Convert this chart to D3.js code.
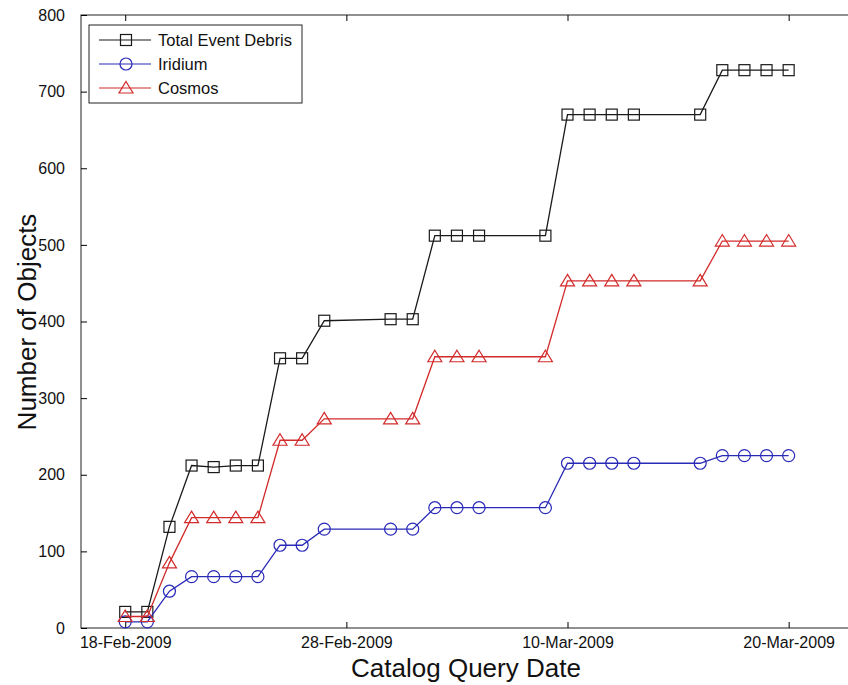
<!DOCTYPE html>
<html lang="en">
<head>
<meta charset="utf-8">
<title>Catalog Query Date</title>
<script src="https://cdn.jsdelivr.net/npm/d3@7"></script>
<style>
    body {
        margin: 0;
        background: #fff;
    }
    svg text {
        font-family: "Liberation Sans", Arial, sans-serif;
        fill: #111;
    }
    .line {
        fill: none;
        stroke-width: 1.3;
    }
</style>
</head>
<body>
<div id="chart"></div>
<script type="text/javascript">

// query dates and object counts
const DATES = ["2009-02-18","2009-02-19","2009-02-20","2009-02-21","2009-02-22",
               "2009-02-23","2009-02-24","2009-02-25","2009-02-26","2009-02-27",
               "2009-03-02","2009-03-03","2009-03-04","2009-03-05","2009-03-06",
               "2009-03-09","2009-03-10","2009-03-11","2009-03-12","2009-03-13",
               "2009-03-16","2009-03-17","2009-03-18","2009-03-19","2009-03-20"];
const TOTAL   = [21,21,132,212,210,212,212,352,352,401,403,403,512,512,512,
                 512,670,670,670,670,670,728,728,728,728];
const IRIDIUM = [8,8,48,67,67,67,67,108,108,129,129,129,157,157,157,
                 157,215,215,215,215,215,225,225,225,225];
const COSMOS  = [15,15,85,144,144,144,144,245,245,273,273,273,354,354,354,
                 354,453,453,453,453,453,505,505,505,505];
const Y_TICKS = [0,100,200,300,400,500,600,700,800];
const X_TICKS = ["2009-02-18","2009-02-28","2009-03-10","2009-03-20"];

const WIDTH = 848,
      HEIGHT = 685;
const LEFT = 81, RIGHT = 855, TOP = 15, BOTTOM = 628;

const parse = d3.timeParse("%Y-%m-%d");
const fmt = d3.timeFormat("%d-%b-%Y");

let series = [
    {name: "Total Event Debris", values: TOTAL, color: "#1a1a1a", marker: "square"},
    {name: "Iridium", values: IRIDIUM, color: "#2a2ab8", marker: "circle"},
    {name: "Cosmos", values: COSMOS, color: "#d22b2b", marker: "triangle"}
];

let svg = d3.select("#chart")
    .append("svg")
    .attr("width", WIDTH)
    .attr("height", HEIGHT);

let xScale = d3.scaleTime()
    .domain([parse("2009-02-16"), parse("2009-03-23")])
    .range([LEFT, RIGHT]);

let yScale = d3.scaleLinear()
    .domain([0, 800])
    .range([BOTTOM, TOP]);

// axes box
svg.append("rect")
    .attr("x", LEFT)
    .attr("y", TOP)
    .attr("width", RIGHT - LEFT)
    .attr("height", BOTTOM - TOP)
    .attr("fill", "none")
    .attr("stroke", "#222")
    .attr("stroke-width", 1);

let xAxis = d3.axisBottom(xScale)
    .tickValues(X_TICKS.map(parse))
    .tickFormat(fmt)
    .tickSizeInner(-6)
    .tickSizeOuter(0)
    .tickPadding(9);

let gx = svg.append("g")
    .attr("transform", "translate(0," + BOTTOM + ")")
    .call(xAxis);
gx.select(".domain").remove();
gx.selectAll("text").style("font-size", "16px");

svg.append("g")
    .attr("transform", "translate(0," + TOP + ")")
    .call(d3.axisTop(xScale).tickValues(X_TICKS.map(parse)).tickSizeInner(-6).tickSizeOuter(0).tickFormat(""))
    .select(".domain").remove();

let yAxis = d3.axisLeft(yScale)
    .tickValues(Y_TICKS)
    .tickSizeInner(-6)
    .tickSizeOuter(0)
    .tickPadding(16);

let gy = svg.append("g")
    .attr("transform", "translate(" + LEFT + ",0)")
    .call(yAxis);
gy.select(".domain").remove();
gy.selectAll("text").style("font-size", "16px");

let gyr = svg.append("g")
    .attr("transform", "translate(" + RIGHT + ",0)")
    .call(d3.axisRight(yScale).tickValues(Y_TICKS).tickSizeInner(-6).tickSizeOuter(0).tickFormat(""));
gyr.select(".domain").remove();
gyr.selectAll("line").attr("stroke", "#ddd");

svg.selectAll(".tick line").attr("stroke-width", 1);

// axis titles
svg.append("text")
    .attr("x", 466)
    .attr("y", 677)
    .attr("text-anchor", "middle")
    .style("font-size", "26px")
    .text("Catalog Query Date");

svg.append("text")
    .attr("transform", "translate(36,322) rotate(-90)")
    .attr("text-anchor", "middle")
    .style("font-size", "26px")
    .text("Number of Objects");

function drawMarker(g, type, color) {
    if (type == "square") {
        g.append("rect")
            .attr("x", -5.5).attr("y", -5.5)
            .attr("width", 11).attr("height", 11);
    } else if (type == "circle") {
        g.append("circle").attr("r", 6);
    } else {
        g.append("path").attr("d", "M0,-6.5L7,5L-7,5Z");
    }
    g.selectAll("*")
        .attr("fill", "none")
        .attr("stroke", color)
        .attr("stroke-width", 1.2);
}

let lineGen = d3.line()
    .x(function(d) { return xScale(d[0]); })
    .y(function(d) { return yScale(d[1]); });

for (let s of series) {
    let pts = DATES.map(function(d, i) { return [parse(d), s.values[i]]; });

    svg.append("path")
        .datum(pts)
        .attr("class", "line")
        .attr("d", lineGen)
        .attr("stroke", s.color);

    svg.selectAll(".m-" + s.marker)
        .data(pts)
        .enter()
        .append("g")
        .attr("class", "m-" + s.marker)
        .attr("transform", function(d) {
            return "translate(" + xScale(d[0]) + "," + yScale(d[1]) + ")";
        })
        .each(function() { drawMarker(d3.select(this), s.marker, s.color); });
}

// legend
let legend = svg.append("g").attr("transform", "translate(89,25)");
legend.append("rect")
    .attr("width", 213)
    .attr("height", 78)
    .attr("fill", "#fff")
    .attr("stroke", "#222")
    .attr("stroke-width", 1);

series.forEach(function(s, i) {
    let row = legend.append("g")
        .attr("transform", "translate(0," + (15 + i * 24) + ")");
    row.append("line")
        .attr("x1", 10).attr("x2", 62)
        .attr("stroke", s.color)
        .attr("stroke-width", 1.2);
    drawMarker(row.append("g").attr("transform", "translate(37,0)"), s.marker, s.color);
    row.append("text")
        .attr("x", 69)
        .attr("y", 6)
        .style("font-size", "16.5px")
        .text(s.name);
});

</script>
</body>
</html>
